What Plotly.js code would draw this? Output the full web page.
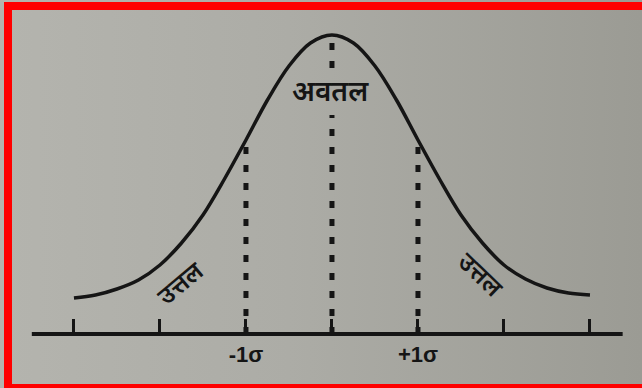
<!DOCTYPE html>
<html>
<head>
<meta charset="utf-8">
<script src="https://cdn.plot.ly/plotly-3.0.1.min.js"></script>
<style>
  body { margin: 0; background: #f2efe6; }
  #chart { width: 642px; height: 388px; background: linear-gradient(90deg, #b4b4ae 0%, #acaca6 45%, #9b9b94 100%); }
</style>
</head>
<body>
<div id="chart"></div>
<script>
// curve, x in sigma units, height above the axis line
var sigma = [-3, -2.75, -2.5, -2.25, -2, -1.75, -1.5, -1.25, -1, -0.75, -0.5, -0.25, 0,
             0.25, 0.5, 0.75, 1, 1.25, 1.5, 1.75, 2, 2.25, 2.5, 2.75, 3];
var height = [0.36, 0.39, 0.45, 0.54, 0.69, 0.91, 1.19, 1.55, 1.94, 2.34, 2.68, 2.91, 2.99,
              2.91, 2.68, 2.34, 1.94, 1.55, 1.19, 0.91, 0.69, 0.55, 0.46, 0.41, 0.39];

var tickPos = [-3, -2, -1, 0, 1, 2, 3];
var tickText = ['', '', '-1σ', '', '+1σ', '', ''];

// dotted guides: x, bottom, top
var guideX = [-1, 0, 0, 1];
var guideLo = [0, 0, 2.66, 0];
var guideHi = [1.96, 2.19, 2.95, 1.92];

var axisFrom = -3.49, axisTo = 3.38;

var labels = ['अवतल', 'उत्तल', 'उत्तल'];
var labelX = [-0.02, -1.77, 1.74];
var labelY = [2.44, 0.52, 0.6];
var labelAngle = [0, -40, 44];

var ink = '#151515';

var traces = [{
  x: sigma, y: height,
  mode: 'lines', type: 'scatter',
  line: {color: ink, width: 3.5, shape: 'spline'},
  hoverinfo: 'skip'
}];

for (i = 0; i < guideX.length; i++) {
  traces.push({
    x: [guideX[i], guideX[i]], y: [guideLo[i], guideHi[i]],
    mode: 'lines', type: 'scatter',
    line: {color: ink, width: 5, dash: '7px,11px'},
    hoverinfo: 'skip'
  });
}

var annots = [];
for (i = 0; i < labels.length; i++) {
  annots.push({
    x: labelX[i], y: labelY[i], xref: 'x', yref: 'y',
    text: labels[i], showarrow: false, textangle: labelAngle[i],
    font: {family: 'Noto Sans, DejaVu Sans, sans-serif', size: i == 0 ? 28 : 25, color: ink, weight: 600}
  });
}

function px(v, n) { return v / n; }

var red = '#ff0000';
var shapes = [
  // axis line
  {type: 'line', xref: 'x', yref: 'y', x0: axisFrom, x1: axisTo, y0: 0, y1: 0,
   line: {color: ink, width: 4}},
  // red frame (top, left, bottom)
  {type: 'rect', xref: 'paper', yref: 'paper', x0: px(4, 642), x1: 1, y0: 1 - px(2, 388), y1: 1 - px(10, 388),
   fillcolor: red, line: {width: 0}},
  {type: 'rect', xref: 'paper', yref: 'paper', x0: px(4, 642), x1: px(12, 642), y0: 0, y1: 1 - px(2, 388),
   fillcolor: red, line: {width: 0}},
  {type: 'rect', xref: 'paper', yref: 'paper', x0: px(4, 642), x1: 1, y0: 0, y1: px(4, 388),
   fillcolor: red, line: {width: 0}}
];

var layout = {
  width: 642, height: 388,
  margin: {l: 0, r: 0, t: 0, b: 0},
  paper_bgcolor: 'rgba(0,0,0,0)',
  plot_bgcolor: 'rgba(0,0,0,0)',
  showlegend: false,
  xaxis: {
    range: [-3.86, 3.605],
    showgrid: false, zeroline: false, showline: false,
    anchor: 'free', position: 1 - 334 / 388,
    tickmode: 'array', tickvals: tickPos, ticktext: tickText,
    ticks: 'inside', ticklen: 15, tickwidth: 3, tickcolor: ink,
    ticklabelstandoff: 5,
    tickfont: {family: 'Liberation Sans, Arial, sans-serif', size: 22, color: ink, weight: 'bold'}
  },
  yaxis: {
    range: [-0.54, 3.34],
    visible: false, showgrid: false, zeroline: false
  },
  annotations: annots,
  shapes: shapes
};

Plotly.newPlot('chart', traces, layout, {staticPlot: true, displayModeBar: false});
</script>
</body>
</html>
